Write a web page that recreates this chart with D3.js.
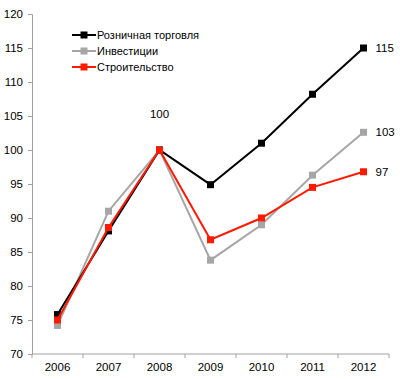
<!DOCTYPE html>
<html><head><meta charset="utf-8">
<script src="https://cdn.jsdelivr.net/npm/d3@7"></script>
<style>body{margin:0;background:#fff}svg{display:block}</style>
</head><body>
<svg id="c" width="400" height="379"></svg>
<script>
const years = ["2006","2007","2008","2009","2010","2011","2012"];
const retail = [75.8, 88.1, 100, 94.9, 101.0, 108.2, 115.0];
const invest = [74.2, 91.0, 100, 83.8, 89.0, 96.3, 102.6];
const constr = [75.0, 88.6, 100, 86.8, 90.0, 94.5, 96.8];
const seriesNames = ["Розничная торговля","Инвестиции","Строительство"];
const seriesColors = ["#000000","#a6a6a6","#ff1a00"];
const yTicks = [70,75,80,85,90,95,100,105,110,115,120];
const endLabels = ["115","103","97"];
const peakLabel = "100";

const svg = d3.select("#c");
const font = "Liberation Sans, Arial, sans-serif";
const fs = 11.5;
const x = d3.scaleBand().domain(years).range([32, 389]);
const y = d3.scaleLinear().domain([70,120]).range([354, 14]);
const axisColor = "#a0a0a0";

// y axis
const ya = svg.append("g").attr("transform","translate(32,0)")
  .call(d3.axisLeft(y).tickValues(yTicks).tickSize(4).tickPadding(5));
ya.select(".domain").attr("stroke",axisColor);
ya.selectAll(".tick line").attr("stroke",axisColor);
ya.selectAll(".tick text").attr("font-family",font).attr("font-size",fs).attr("fill","#000");

// x axis
const xa = svg.append("g").attr("transform","translate(0,354)")
  .call(d3.axisBottom(x).tickSize(0).tickPadding(9));
xa.select(".domain").attr("stroke",axisColor).attr("d","M32,0H389");
xa.selectAll(".tick text").attr("font-family",font).attr("font-size",fs).attr("fill","#000");
const bounds = years.map(d=>x(d)).concat([389]);
xa.selectAll(".bt").data(bounds).enter().append("line")
  .attr("x1",d=>d).attr("x2",d=>d).attr("y1",0).attr("y2",4).attr("stroke",axisColor);

const data = [retail, invest, constr];
const line = d3.line().x((d,i)=>x(years[i])+x.bandwidth()/2).y(d=>y(d));
// draw order: invest, retail, construction (red on top)
[1,0,2].forEach(k=>{
  const g = svg.append("g");
  g.append("path").attr("d",line(data[k])).attr("fill","none")
    .attr("stroke",seriesColors[k]).attr("stroke-width",2);
  g.selectAll("rect").data(data[k]).enter().append("rect")
    .attr("x",(d,i)=>x(years[i])+x.bandwidth()/2-3.5)
    .attr("y",d=>y(d)-3.5).attr("width",7).attr("height",7)
    .attr("fill",seriesColors[k]);
});

// end labels
data.forEach((s,k)=>{
  svg.append("text").attr("x",x(years[6])+x.bandwidth()/2+12)
    .attr("y",y(s[6])+4).attr("font-family",font).attr("font-size",fs)
    .attr("fill","#000").text(endLabels[k]);
});
svg.append("text").attr("x",x("2008")+x.bandwidth()/2).attr("y",118)
  .attr("text-anchor","middle").attr("font-family",font).attr("font-size",fs)
  .attr("fill","#000").text(peakLabel);

// legend
seriesNames.forEach((n,k)=>{
  const ly = 35 + k*16;
  svg.append("line").attr("x1",72).attr("x2",96).attr("y1",ly).attr("y2",ly)
    .attr("stroke",seriesColors[k]).attr("stroke-width",2);
  svg.append("rect").attr("x",80.5).attr("y",ly-3.5).attr("width",7).attr("height",7)
    .attr("fill",seriesColors[k]);
  svg.append("text").attr("x",97).attr("y",ly+4).attr("font-family",font)
    .attr("font-size",11).attr("fill","#000").text(n);
});
</script>
</body></html>
